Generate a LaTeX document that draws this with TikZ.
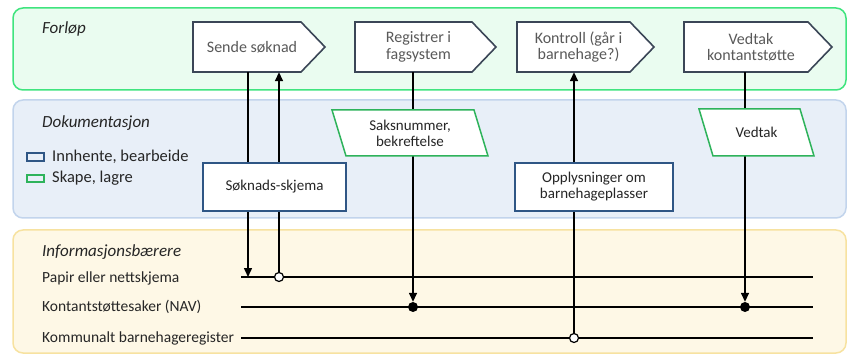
\documentclass[tikz,border=0pt]{standalone}
\usepackage{fontspec}
\setmainfont{Carlito}
\usetikzlibrary{arrows.meta,calc}
\definecolor{flowB}{HTML}{3FE47E}
\definecolor{flowF}{HTML}{EAFCF0}
\definecolor{docB}{HTML}{C2D4EC}
\definecolor{docF}{HTML}{E8EFF8}
\definecolor{infB}{HTML}{F7E2A0}
\definecolor{infF}{HTML}{FEF8E6}
\definecolor{procB}{HTML}{3B4657}
\definecolor{blueB}{HTML}{2F5685}
\definecolor{grnB}{HTML}{2EB35B}
\definecolor{txtgrey}{HTML}{595959}
\definecolor{txtdark}{HTML}{262626}
\tikzset{
 panel/.style={rounded corners=10pt, line width=1.5pt},
 procshape/.style={draw=procB, fill=white, line width=1.6pt, line join=miter},
 proctext/.style={text=txtgrey, align=center, inner sep=0pt, font=\fontsize{16}{16.5}\selectfont},
 docbox/.style={draw=blueB, fill=white, line width=1.5pt, align=center, text=txtdark, minimum height=48pt, inner sep=0pt},
 savebox/.style={draw=grnB, fill=white, line width=1.5pt, line join=miter},
 savetext/.style={align=center, text=txtdark, inner sep=0pt},
 title/.style={anchor=west, inner sep=0pt, font=\fontsize{17}{18}\selectfont\itshape, text=txtdark},
 lbl/.style={anchor=west, text=txtdark, inner sep=0pt, font=\fontsize{15.5}{16}\selectfont},
 leg/.style={anchor=west, text=txtdark, inner sep=0pt, font=\fontsize{16.5}{17}\selectfont},
 conn/.style={line width=1.5pt},
 arr/.style={conn, -{Triangle[length=9pt,width=8pt]}},
 opendot/.style={circle, draw, fill=white, line width=1.2pt, minimum size=9pt, inner sep=0pt},
 fulldot/.style={circle, fill=black, minimum size=10pt, inner sep=0pt},
}
\newcommand\mkproc[4]{%
  \draw[procshape] (#2,22) -- ({#3-24},22) -- (#3,47) -- ({#3-24},72) -- (#2,72) -- cycle;
  \node[inner sep=0pt, minimum width={(#3-24-#2)*1pt}, minimum height=50pt] (#1) at ({(#2+#3-24)/2},47) {};
  \node[proctext] (#1t) at ($(#1)+(5,0)$) {#4};
}
\newcommand\mksave[6]{%
  \draw[savebox] (#2,#4) -- (#3,#4) -- ({#3+14},#5) -- ({#2+14},#5) -- cycle;
  \node[savetext] (#1) at ({(#2+#3+14)/2},{(#4+#5)/2}) {#6};
}
\begin{document}
\begin{tikzpicture}[x=1pt,y=-1pt,font=\fontsize{15}{16}\selectfont]
\useasboundingbox (0,0) rectangle (848,355);
% panels
\draw[panel, draw=flowB, fill=flowF] (13,8) rectangle (846,90);
\draw[panel, draw=docB, fill=docF] (13,100) rectangle (846,218);
\draw[panel, draw=infB, fill=infF] (13,230) rectangle (846,353);
% titles
\node[title] (tF) at (42,29) {Forløp};
\node[title] (tD) at (42,123) {Dokumentasjon};
\node[title] (tI) at (42,252) {Informasjonsbærere};
% legend
\draw[draw=blueB, line width=2pt] (27,153) rectangle (44,161);
\node[leg] (lg1) at (52,157) {Innhente, bearbeide};
\draw[draw=grnB, line width=2pt] (27,175) rectangle (44,182);
\node[leg] (lg2) at (52,178) {Skape, lagre};
% carrier labels
\node[lbl] (lP) at (42,278) {Papir eller nettskjema};
\node[lbl] (lK) at (42,307) {Kontantstøttesaker (NAV)};
\node[lbl] (lM) at (42,338) {Kommunalt barnehageregister};
% process boxes
\mkproc{p1}{193}{325}{Sende søknad}
\mkproc{p2}{355}{496}{Registrer i\\fagsystem}
\mkproc{p3}{517}{654}{Kontroll (går i\\barnehage?)}
\mkproc{p4}{684}{832}{Vedtak\\kontantstøtte}
% carrier lines
\coordinate (pL) at (241,277); \coordinate (pR) at (813,277);
\coordinate (kL) at (241,307); \coordinate (kR) at (813,307);
\coordinate (mL) at (241,338); \coordinate (mR) at (813,338);
\draw[line width=2.2pt] (pL) -- (pR);
\draw[line width=1.3pt] (kL) -- (kR);
\draw[line width=1.3pt] (mL) -- (mR);
% junctions
\coordinate (j1) at (248,277);
\node[opendot] (o1) at (279,277) {};
\node[fulldot] (d2) at (413,307) {};
\node[opendot] (o3) at (574,338) {};
\node[fulldot] (d4) at (745,307) {};
% connectors
\draw[arr] (p1.south -| j1) -- (j1);
\draw[arr] (o1.north) -- (p1.south -| o1);
\draw[arr] (p2.south -| d2) -- (d2.north);
\draw[arr] (o3.north) -- (p3.south -| o3);
\draw[arr] (p4.south -| d4) -- (d4.north);
% documents
\node[docbox, minimum width=143pt] (b1) at (274.5,187) {Søknads-skjema};
\node[docbox, minimum width=158pt] (b2) at (594,187) {Opplysninger om\\barnehageplasser};
\mksave{s1}{332}{474}{110}{156}{Saksnummer,\\bekreftelse}
\mksave{s2}{699}{800}{109}{156}{Vedtak}
\end{tikzpicture}
\end{document}
